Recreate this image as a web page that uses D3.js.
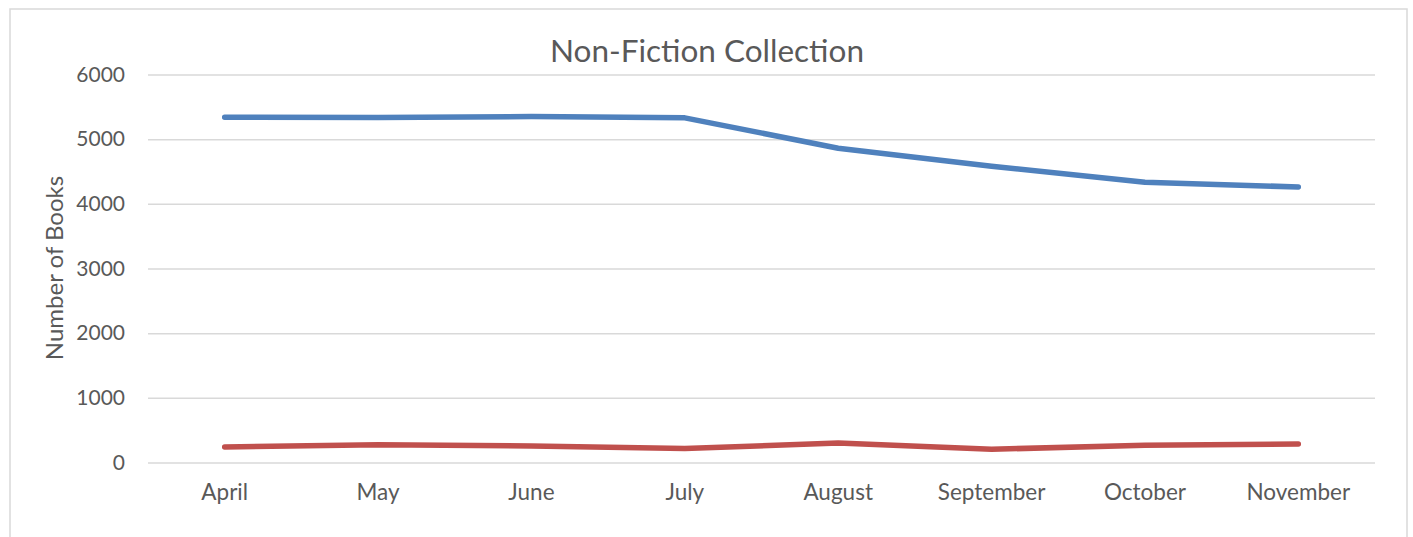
<!DOCTYPE html>
<html>
<head>
<meta charset="utf-8">
<script src="https://cdn.jsdelivr.net/npm/d3@7"></script>
<style>
  body { margin: 0; background: #fff; }
  svg text { font-family: Lato, "Liberation Sans", sans-serif; fill: #595959; }
</style>
</head>
<body>
<svg id="chart" width="1413" height="537"></svg>
<script>
// data
const months = ['April', 'May', 'June', 'July', 'August', 'September', 'October', 'November'];
const seriesA = [5340, 5335, 5350, 5330, 4860, 4580, 4335, 4260];   // blue
const seriesB = [240, 275, 255, 215, 300, 205, 265, 285];           // red
const yTicks = [0, 1000, 2000, 3000, 4000, 5000, 6000];

const svg = d3.select('#chart');
const margin = { top: 74.5, left: 148, right: 1375, bottom: 462.5 };

// outer frame (no bottom edge visible)
svg.append('path')
  .attr('d', 'M10,545 L10,9 L1407,9 L1407,545')
  .attr('fill', 'none')
  .attr('stroke', '#d9d9d9')
  .attr('stroke-width', 1.5);

const x = d3.scaleBand()
  .domain(months)
  .range([margin.left, margin.right]);

const y = d3.scaleLinear()
  .domain([0, 6000])
  .range([margin.bottom, margin.top]);

// gridlines + y labels
const yAxis = svg.append('g')
  .attr('transform', `translate(${margin.left},0)`)
  .call(d3.axisLeft(y).tickValues(yTicks).tickFormat(d3.format('d'))
    .tickSize(-(margin.right - margin.left)).tickPadding(23));
yAxis.select('.domain').remove();
yAxis.selectAll('line').attr('stroke', '#d9d9d9').attr('stroke-width', 1.5);
yAxis.selectAll('text')
  .style('font-size', '21px')
  .attr('fill', '#595959');

// x labels
const xAxis = svg.append('g')
  .attr('transform', `translate(0,${margin.bottom})`)
  .call(d3.axisBottom(x).tickSize(0).tickPadding(22));
xAxis.select('.domain').remove();
xAxis.selectAll('text')
  .style('font-size', '22.5px')
  .attr('fill', '#595959');

const line = d3.line()
  .x((d, i) => x(months[i]) + x.bandwidth() / 2)
  .y(d => y(d));

svg.append('path')
  .datum(seriesB)
  .attr('d', line)
  .attr('fill', 'none')
  .attr('stroke', '#c0504d')
  .attr('stroke-width', 5.5)
  .attr('stroke-linecap', 'round')
  .attr('stroke-linejoin', 'round');

svg.append('path')
  .datum(seriesA)
  .attr('d', line)
  .attr('fill', 'none')
  .attr('stroke', '#4f81bd')
  .attr('stroke-width', 5.5)
  .attr('stroke-linecap', 'round')
  .attr('stroke-linejoin', 'round');

// title
svg.append('text')
  .attr('x', 707)
  .attr('y', 62)
  .attr('text-anchor', 'middle')
  .style('font-size', '31.5px')
  .text('Non-Fiction Collection');

// y axis title
svg.append('text')
  .attr('transform', 'translate(63,268) rotate(-90)')
  .attr('text-anchor', 'middle')
  .style('font-size', '24px')
  .text('Number of Books');
</script>
</body>
</html>
